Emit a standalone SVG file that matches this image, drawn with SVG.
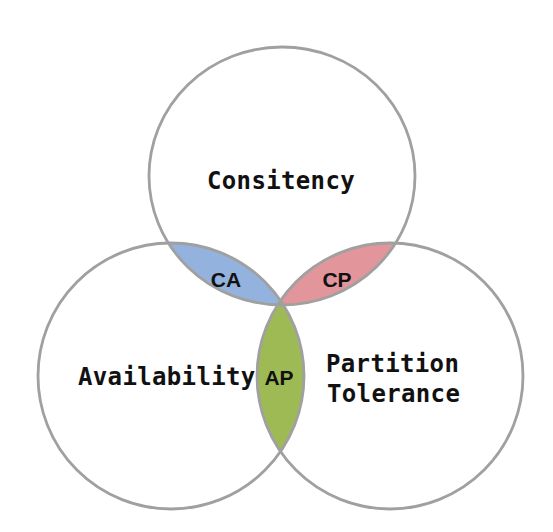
<svg xmlns="http://www.w3.org/2000/svg" width="553" height="532" viewBox="0 0 553 532">
<style>
.ring{fill:none;stroke:#a0a0a0;stroke-width:2.8}
.lbl{font-family:"DejaVu Sans Mono","Liberation Mono",monospace;font-weight:bold;font-size:24px;letter-spacing:0.35px;fill:#111}
.pair{font-family:"Liberation Sans",Arial,sans-serif;font-weight:bold;font-size:21px;fill:#111;text-anchor:middle}
</style>
<defs>
<clipPath id="c1"><ellipse cx="282" cy="176" rx="133" ry="129"/></clipPath>
<clipPath id="c3"><circle cx="390" cy="376" r="133"/></clipPath>
</defs>
<rect width="553" height="532" fill="#fff"/>
<g id="overlaps">
<circle cx="171" cy="376" r="133" fill="#93b2dd" clip-path="url(#c1)"/>
<circle cx="390" cy="376" r="133" fill="#e2959a" clip-path="url(#c1)"/>
<circle cx="171" cy="376" r="133" fill="#9dba54" clip-path="url(#c3)"/>
</g>
<g id="consistency"><ellipse class="ring" cx="282" cy="176" rx="133" ry="129"/><text class="lbl" x="207" y="189">Consitency</text></g>
<g id="availability"><circle class="ring" cx="171" cy="376" r="133"/><text class="lbl" x="78" y="385">Availability</text></g>
<g id="partition"><circle class="ring" cx="390" cy="376" r="133"/><text class="lbl" x="326" y="372">Partition</text><text class="lbl" x="327" y="402">Tolerance</text></g>
<g id="ca"><text class="pair" x="226" y="287">CA</text></g>
<g id="cp"><text class="pair" x="337" y="287">CP</text></g>
<g id="ap"><text class="pair" x="279" y="385">AP</text></g>
<g id="connectors"/>
</svg>
